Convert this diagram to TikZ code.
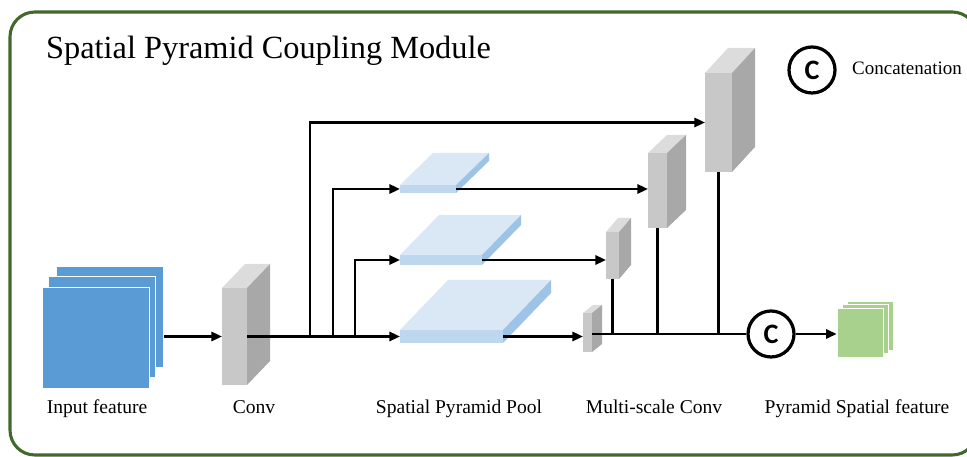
\documentclass[tikz,border=0pt]{standalone}
\usepackage{fontspec}
\setmainfont{Liberation Serif}
\newfontfamily\catfont{Carlito}
\usetikzlibrary{arrows.meta, positioning}
\definecolor{cframe}{HTML}{42692C}
\definecolor{cinput}{HTML}{5B9BD5}
\definecolor{coutput}{HTML}{A9D18E}
\definecolor{convfront}{HTML}{C8C8C8}
\definecolor{convtop}{HTML}{DCDCDC}
\definecolor{convside}{HTML}{A8A8A8}
\definecolor{poolfront}{HTML}{BDD7EE}
\definecolor{pooltop}{HTML}{DAE7F5}
\definecolor{poolside}{HTML}{9DC3E6}
\newcommand{\pxu}{0.025cm}
\tikzset{
  every picture/.style={line width=1.7pt},
  sheet/.style={fill=#1, draw=white, line width=0.5pt, inner sep=0pt},
  frame/.style={draw=cframe, line width=2.2pt, rounded corners=0.62cm},
  arrow/.style={-{Triangle[length=7.5pt, width=6.5pt]}, line width=1.7pt},
  link/.style={line width=1.7pt},
  concat/.style={circle, draw, line width=2.3pt, minimum size=46*\pxu, inner sep=0pt,
    font=\catfont\bfseries\fontsize{20}{20}\selectfont},
  caption/.style={font=\fontsize{13.9}{16}\selectfont, anchor=base, inner sep=0pt},
  title/.style={font=\fontsize{23}{27}\selectfont, anchor=base west, inner sep=0pt},
}
% kind, name, x, y, width, height, depth x, depth y
\newcommand{\cuboid}[8]{%
  \node[fill=#1front, inner sep=0pt, outer sep=0pt,
        minimum width=#5*\pxu, minimum height=#6*\pxu] (#2) at (#3,#4) {};
  \fill[#1top] (#2.north west) -- ++(#7,-#8) -- ++(#5,0) -- (#2.north east) -- cycle;
  \fill[#1side] (#2.north east) -- ++(#7,-#8) -- ++(0,#6) -- (#2.south east) -- cycle;
}

\begin{document}
\begin{tikzpicture}[x=\pxu, y=-\pxu]
  \useasboundingbox (0,0) rectangle (967,457);
  \draw[frame] (10,12) rectangle (977,455);
  \node[title] (title) at (45,59) {Spatial Pyramid Coupling Module};

  % input feature maps
  \node[sheet=cinput, minimum width=107*\pxu, minimum height=101*\pxu] (in3) at (110,317) {};
  \node[sheet=cinput, minimum width=107*\pxu, minimum height=101*\pxu] (in2) at (102,327) {};
  \node[sheet=cinput, minimum width=107*\pxu, minimum height=101*\pxu] (in1) at (96,338) {};

  \cuboid{conv}{conv}{234.5}{336.5}{25}{97}{23}{24}

  % pooling slabs
  \cuboid{pool}{pool1}{428}{189}{56}{8}{33}{32}
  \cuboid{pool}{pool2}{441}{260}{82}{10}{39}{40}
  \cuboid{pool}{pool3}{451.5}{336.5}{103}{13}{48}{50}

  % multi-scale convolutions
  \cuboid{conv}{ms0}{587.5}{332.5}{9}{39}{10}{8}
  \cuboid{conv}{ms1}{612.5}{255.5}{13}{47}{12}{14}
  \cuboid{conv}{ms2}{657.5}{190.5}{19}{75}{19}{18}
  \cuboid{conv}{ms3}{718.5}{122.5}{27}{99}{23}{25}

  \node[concat] (cat) at (771,334) {C};

  % output feature maps
  \node[sheet=coutput, minimum width=46*\pxu, minimum height=49*\pxu] (out3) at (870,326) {};
  \node[sheet=coutput, minimum width=46*\pxu, minimum height=49*\pxu] (out2) at (865,329) {};
  \node[sheet=coutput, minimum width=46*\pxu, minimum height=49*\pxu] (out1) at (860,332.5) {};

  \coordinate (j1) at (310,336.5);
  \coordinate (j2) at (333,336.5);
  \coordinate (j3) at (355,336.5);

  \draw[arrow] (in3.east |- conv.west) -- (conv.west);
  \draw[arrow] (conv.east) -- (pool3.west);
  \draw[arrow] (j1) |- (ms3.west);
  \draw[arrow] (j2) |- (pool1.west);
  \draw[arrow] (j3) |- (pool2.west);
  \draw[arrow] (pool1.east) -- (pool1.east -| ms2.west);
  \draw[arrow] (pool2.east) -- (pool2.east -| ms1.west);
  \draw[arrow] (pool3.east) -- (pool3.east -| ms0.west);

  \draw[link] (ms0.east |- cat) -- (cat.west);
  \draw[link] (ms1.south) -- (ms1.south |- cat);
  \draw[link] (ms2.south) -- (ms2.south |- cat);
  \draw[link] (ms3.south) -- (ms3.south |- cat);
  \draw[arrow] (cat.east) -- (cat -| out1.west);

  % legend
  \node[concat] (key) at (812,70) {C};
  \node[caption, anchor=base west, font=\fontsize{13.5}{16}\selectfont] (keytext) at (851,75) {Concatenation};

  \node[caption] (lin) at (97,414) {Input feature};
  \node[caption] (lconv) at (254,414) {Conv};
  \node[caption] (lpool) at (459,414) {Spatial Pyramid Pool};
  \node[caption] (lms) at (654,414) {Multi-scale Conv};
  \node[caption] (lout) at (857,414) {Pyramid Spatial feature};
\end{tikzpicture}
\end{document}
